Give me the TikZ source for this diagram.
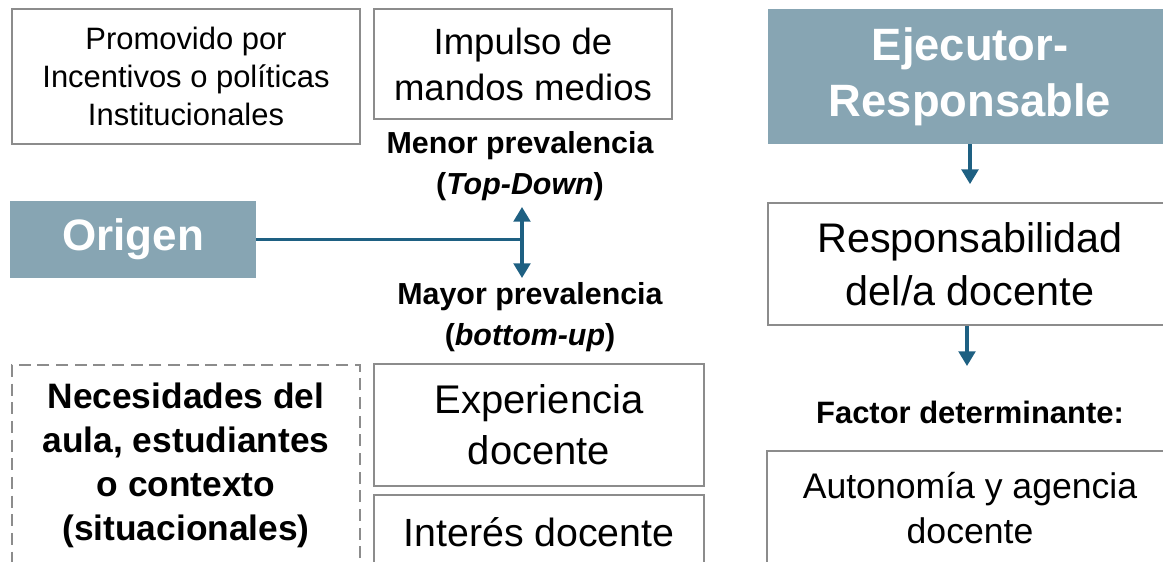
\documentclass[tikz,border=0pt]{standalone}
\usepackage{fontspec}
\setmainfont{Liberation Sans}
\usetikzlibrary{arrows.meta}

\definecolor{grisborde}{RGB}{140,140,140}
\definecolor{azulgris}{RGB}{135,165,179}
\definecolor{azulflecha}{RGB}{30,96,130}

\begin{document}
\begin{tikzpicture}[x=0.75pt,y=0.75pt,yscale=-1,xscale=1,
  caja/.style={draw=grisborde, line width=1.3pt, align=center, inner sep=0pt},
  cajaazul/.style={fill=azulgris, text=white, align=center, inner sep=0pt, font=\bfseries\fontsize{34}{42}\selectfont},
  rotulo/.style={align=center, inner sep=0pt, font=\bfseries\fontsize{22.8}{30.5}\selectfont},
  flecha/.style={draw=azulflecha, line width=2.4pt, -{Triangle[width=12.5pt,length=11pt]}}]
                %set diagram: 1163 x 561
                \useasboundingbox (0,0) rectangle (1163,561);
                \clip (0,0) rectangle (1163,561);

                %Shape: Rectangle
                \node [caja, minimum width=261pt, minimum height=101.25pt, font=\fontsize{23.2}{28.5}\selectfont] (promovido) at (186,76.5) {Promovido por\\Incentivos o políticas\\Institucionales};
                %Shape: Rectangle
                \node [caja, minimum width=223.5pt, minimum height=82.5pt, font=\fontsize{27.4}{34.5}\selectfont] (impulso) at (523,64) {Impulso de\\mandos medios};
                % Text Node
                \node [rotulo] (menor) at (520,166) {Menor prevalencia\\(\textit{Top-Down})};
                %Shape: Rectangle
                \node [cajaazul, font=\bfseries\fontsize{33}{42}\selectfont, minimum width=184.5pt, minimum height=57.75pt] (origen) at (133,239.5) {Origen};
                % Text Node
                \node [rotulo] (mayor) at (530,317) {Mayor prevalencia\\(\textit{bottom-up})};

                %Straight Lines
                \coordinate (tdarriba) at (522,207);
                \coordinate (tdabajo) at (522,278);
                \draw [draw=azulflecha, line width=2.5pt] (origen.east) -- (origen.east -| tdarriba);
                \draw [flecha, {Triangle[width=12.5pt,length=11pt]}-{Triangle[width=12.5pt,length=11pt]}] (tdarriba) -- (tdabajo);

                %Shape: Rectangle
                \node [caja, dashed, dash pattern=on 9pt off 5pt, anchor=north, minimum width=261pt, minimum height=150pt, font=\bfseries\fontsize{26.5}{33}\selectfont] (necesidades) at (186,364) {Necesidades del\\aula, estudiantes\\o contexto\\(situacionales)};
                %Shape: Rectangle
                \node [caja, minimum width=247.5pt, minimum height=91.5pt, font=\fontsize{30}{38}\selectfont] (experiencia) at (539,425) {Experiencia\\docente};
                %Shape: Rectangle
                \node [caja, anchor=north, minimum width=247.5pt, minimum height=55.5pt, font=\fontsize{29.5}{38}\selectfont] (interes) at (539,494) {Interés docente};

                %Shape: Rectangle
                \node [cajaazul, minimum width=303pt, minimum height=101.25pt] (ejecutor) at (970,76.5) {Ejecutor-\\Responsable};
                %Shape: Rectangle
                \node [caja, minimum width=303pt, minimum height=91.5pt, font=\fontsize{31}{40}\selectfont] (responsabilidad) at (970,264) {Responsabilidad\\del/a docente};
                % Text Node
                \node [rotulo, font=\bfseries\fontsize{23.2}{30}\selectfont] (factor) at (970,412) {Factor determinante:};
                %Shape: Rectangle
                \node [caja, anchor=north, minimum width=304.5pt, minimum height=86.25pt, font=\fontsize{26.7}{34}\selectfont] (autonomia) at (970,450) {Autonomía y agencia\\docente};

                %Straight Lines
                \draw [flecha, shorten >=13.5pt] (ejecutor.south) -- (responsabilidad.north);
                \coordinate (fin2) at (967,366);
                \draw [flecha] (responsabilidad.south -| fin2) -- (fin2);

\end{tikzpicture}
\end{document}
